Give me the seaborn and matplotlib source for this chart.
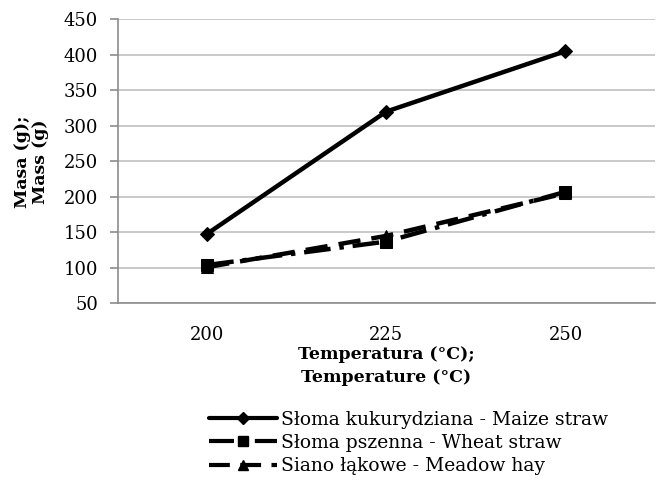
import matplotlib
matplotlib.use("Agg")
import matplotlib.pyplot as plt
import seaborn as sns
import pandas as pd
from matplotlib.lines import Line2D

temps = ["200", "225", "250"]
maize = [148, 320, 405]
wheat = [104, 137, 207]
hay = [101, 145, 205]
names = ["Słoma kukurydziana - Maize straw", "Słoma pszenna - Wheat straw", "Siano łąkowe - Meadow hay"]

sns.set_theme(style="white")
plt.rcParams['font.family'] = ['DejaVu Serif']
plt.rcParams['text.color'] = 'black'
plt.rcParams['axes.labelcolor'] = 'black'
plt.rcParams['xtick.color'] = 'black'
plt.rcParams['ytick.color'] = 'black'

df = pd.DataFrame({
    "Temperature": temps * 3,
    "Mass": maize + wheat + hay,
    "Series": [names[0]] * 3 + [names[1]] * 3 + [names[2]] * 3,
})
df["x"] = df["Temperature"].map({t: i for i, t in enumerate(temps)})

fig = plt.figure(figsize=(6.57, 4.8), dpi=100)
ax = fig.add_axes([0.179, 0.368, 0.818, 0.592])

styles = {
    names[0]: dict(marker="D", ls="-", ms=7),
    names[1]: dict(marker="s", ls=(0, (6, 2, 1, 2)), ms=8),
    names[2]: dict(marker="^", ls=(0, (5, 2.5)), ms=8),
}
for n in names:
    sub = df[df["Series"] == n]
    st = styles[n]
    sns.lineplot(data=sub, x="x", y="Mass", ax=ax, color="black", lw=3.2,
                 linestyle=st["ls"], marker=st["marker"], markersize=st["ms"],
                 markeredgecolor="black", legend=False)

ax.set_xlim(-0.5, 2.5)
ax.set_ylim(50, 450)
ax.set_yticks(range(50, 451, 50))
ax.set_xticks(range(len(temps)))
ax.set_xticklabels(temps)
ax.yaxis.grid(True, color="#c0c0c0", lw=1.2)
ax.xaxis.grid(False)
for s in ["top", "right"]:
    ax.spines[s].set_visible(False)
for s in ["left", "bottom"]:
    ax.spines[s].set_color("#8c8c8c")
    ax.spines[s].set_linewidth(1.2)
ax.tick_params(axis="y", which="both", left=True, length=6, width=1.2, color="#8c8c8c",
               labelsize=13, pad=8, labelcolor="black")
ax.tick_params(axis="x", bottom=False, labelsize=13, pad=10, labelcolor="black")

ax.set_xlabel("Temperatura (°C);\nTemperature (°C)", fontsize=12.5, fontweight="bold",
              labelpad=2, linespacing=1.4)
ax.set_ylabel("Masa (g);\nMass (g)", fontsize=12.5, fontweight="bold",
              linespacing=1.1)
ax.yaxis.set_label_coords(-0.128, 0.5)

handles = [Line2D([], [], color="black", lw=3.0, linestyle=styles[n]["ls"],
                  marker=styles[n]["marker"], markersize=styles[n]["ms"] - 1)
           for n in names]
fig.legend(handles, names, loc="center", bbox_to_anchor=(0.622, 0.077), frameon=False,
           fontsize=13.5, handlelength=3.6, handletextpad=0.25, labelspacing=0.28,
           borderpad=0)

fig.savefig("out.png", dpi=100)
